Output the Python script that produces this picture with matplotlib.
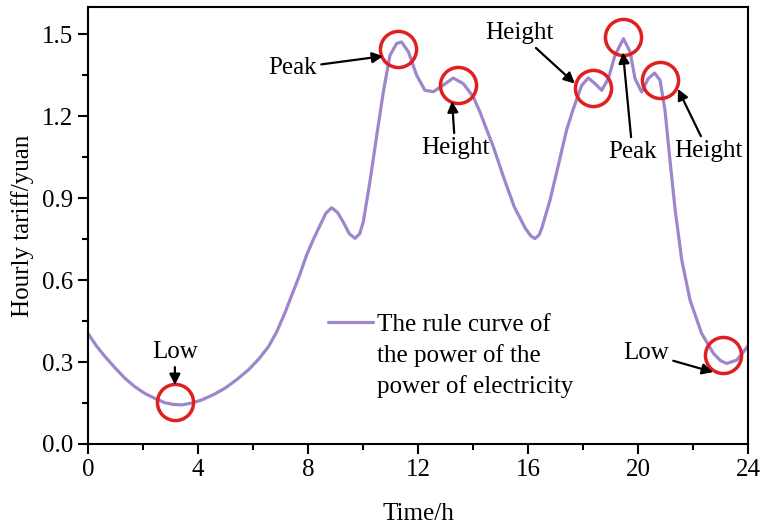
import matplotlib
matplotlib.use("Agg")
import matplotlib.pyplot as plt

plt.rcParams['font.family'] = ['Liberation Serif', 'DejaVu Serif']

# values
hours = [0.0, 0.3, 0.62, 1.0, 1.35, 1.7, 2.07, 2.45, 2.8, 3.1, 3.41, 3.77, 4.13,
         4.55, 4.98, 5.4, 5.83, 6.2, 6.56, 6.86, 7.16, 7.7, 7.95, 8.2, 8.44,
         8.65, 8.86, 9.07, 9.28, 9.5, 9.71, 9.88, 10.01, 10.25, 10.5, 10.74,
         10.98, 11.22, 11.4, 11.65, 11.95, 12.25, 12.56, 12.92, 13.28, 13.65,
         14.01, 14.25, 14.5, 14.74, 15.1, 15.5, 15.9, 16.1, 16.25, 16.4, 16.5,
         16.8, 17.1, 17.4, 17.65, 17.95, 18.19, 18.44, 18.68, 18.92, 19.16,
         19.47, 19.71, 19.89, 20.13, 20.37, 20.6, 20.8, 20.98, 21.16, 21.35,
         21.59, 21.89, 22.31, 22.74, 23.0, 23.22, 23.59, 23.89, 24.0]
tariff = [0.405, 0.36, 0.32, 0.277, 0.24, 0.21, 0.185, 0.166, 0.151, 0.145,
          0.143, 0.15, 0.161, 0.18, 0.204, 0.235, 0.271, 0.31, 0.356, 0.41,
          0.48, 0.62, 0.692, 0.75, 0.801, 0.845, 0.865, 0.848, 0.813, 0.77,
          0.753, 0.77, 0.813, 0.96, 1.13, 1.29, 1.423, 1.466, 1.472, 1.436,
          1.35, 1.295, 1.29, 1.314, 1.34, 1.319, 1.271, 1.216, 1.15, 1.088,
          0.98, 0.868, 0.79, 0.762, 0.752, 0.765, 0.79, 0.893, 1.02, 1.149,
          1.228, 1.313, 1.34, 1.319, 1.295, 1.338, 1.423, 1.484, 1.436, 1.338,
          1.289, 1.338, 1.358, 1.332, 1.222, 1.039, 0.856, 0.673, 0.527, 0.405,
          0.332, 0.305, 0.295, 0.307, 0.345, 0.36]

# highlighted points (circle centres)
mark_x = [3.16, 11.28, 13.47, 18.38, 19.44, 20.8, 23.1]
mark_y = [0.155, 1.448, 1.314, 1.302, 1.49, 1.332, 0.326]

# annotation labels: text, text position, arrow tip
labels = ['Low', 'Peak', 'Height', 'Height', 'Peak', 'Height', 'Low']
label_x = [3.16, 7.45, 13.35, 15.7, 19.8, 22.55, 20.3]
label_y = [0.337, 1.376, 1.083, 1.504, 1.068, 1.072, 0.333]
tip_x = [3.16, 10.73, 13.24, 17.7, 19.45, 21.45, 22.73]
tip_y = [0.216, 1.42, 1.255, 1.32, 1.434, 1.30, 0.263]

legend_lines = ['The rule curve of', 'the power of the', 'power of electricity']

fig = plt.figure(figsize=(7.61, 5.26), dpi=100)
ax = fig.add_axes([0.1156, 0.1559, 0.983 - 0.1156, 0.9867 - 0.1559])

ax.plot(hours, tariff, color='#9d86cc', lw=2.3, label=legend_lines[0],
        solid_capstyle='round', solid_joinstyle='round')
ax.plot(mark_x, mark_y, 'o', ms=26, mfc='none', mec='#e02020', mew=2.5)

for t, lx, ly, tx, ty in zip(labels, label_x, label_y, tip_x, tip_y):
    ax.annotate(t, xy=(tx, ty), xytext=(lx, ly), ha='center', va='center',
                fontsize=18,
                arrowprops=dict(arrowstyle='-|>', color='black', lw=1.6,
                                mutation_scale=16, shrinkA=1, shrinkB=0))

ax.set_xlim(0, 24)
ax.set_ylim(0, 1.6)
ax.set_xticks([0, 4, 8, 12, 16, 20, 24])
ax.set_xticks([2, 6, 10, 14, 18, 22], minor=True)
ax.set_yticks([0.0, 0.3, 0.6, 0.9, 1.2, 1.5])
ax.set_yticks([0.15, 0.45, 0.75, 1.05, 1.35], minor=True)
ax.set_yticklabels(['0.0', '0.3', '0.6', '0.9', '1.2', '1.5'])
ax.tick_params(which='major', length=7, width=1.5, labelsize=18, direction='out')
ax.tick_params(which='minor', length=4, width=1.5, direction='out')
for s in ax.spines.values():
    s.set_linewidth(1.5)

ax.set_xlabel('Time/h', fontsize=18, labelpad=16)
ax.set_ylabel('Hourly tariff/yuan', fontsize=18, labelpad=6)

leg = ax.legend(loc='upper left', bbox_to_anchor=(0.33, 0.35), frameon=False,
                fontsize=18, handlelength=1.8, handletextpad=0.15)
fig.canvas.draw()
bb = leg.get_texts()[0].get_window_extent()
for i, txt in enumerate(legend_lines[1:], start=1):
    fig.text(bb.x0 / fig.dpi / 7.61, (bb.y0 - i * 31) / fig.dpi / 5.26, txt,
             fontsize=18, ha='left', va='bottom')

fig.savefig('out.png', dpi=100)
